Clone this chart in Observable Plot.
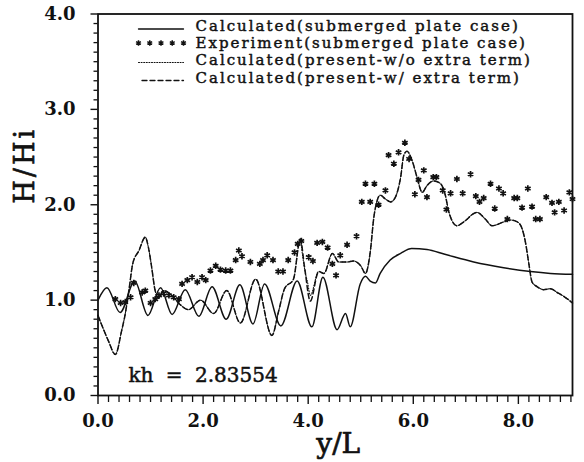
<!DOCTYPE html>
<html><head><meta charset="utf-8">
<script src="https://cdn.jsdelivr.net/npm/d3@7"></script>
<script src="https://cdn.jsdelivr.net/npm/@observablehq/plot@0.6"></script>
<style>
html,body{margin:0;padding:0;background:#fff;}
#chart{width:584px;height:462px;}
</style>
</head><body><div id="chart"></div>
<script>
// ---- Data ----
// Calculated (submerged plate case) — solid line
const solidX = [0.00,0.17,0.42,0.70,0.95,1.19,1.41,1.66,1.92,2.17,2.44,2.70,2.95,3.17,3.48,3.79,4.07,4.28,4.55,4.71,4.80,4.99,5.09,5.18,5.28,5.37,5.56,5.76,5.97,6.26,6.60,7.15,7.72,8.23,8.61,9.03];
const solidY = [1.00,1.13,0.87,1.20,0.84,1.13,0.85,1.11,0.83,1.14,0.80,1.16,0.75,1.17,0.73,1.20,0.72,1.24,0.69,0.86,0.72,1.17,1.25,1.20,1.18,1.28,1.42,1.49,1.54,1.53,1.48,1.40,1.34,1.30,1.28,1.27];

// Calculated (present, w/ extra term) — dashed line
const dashX = [0,0.10,0.20,0.33,0.45,0.52,0.60,0.66,0.78,0.90,0.96,1.02,1.08,1.15,1.25,1.40,1.55,1.72,1.95,2.20,2.45,2.71,3.00,3.31,3.44,3.55,3.72,3.85,3.93,4.04,4.20,4.30,4.46,4.58,4.74,4.86,5.00,5.09,5.18,5.25,5.31,5.37,5.47,5.57,5.66,5.76,5.82,5.88,5.98,6.07,6.17,6.26,6.39,6.52,6.61,6.67,6.74,6.83,6.96,7.21,7.37,7.50,7.72,7.85,7.98,8.07,8.13,8.20,8.26,8.36,8.48,8.61,8.74,8.89,9.03];
const dashY = [0.84,0.70,0.57,0.43,0.68,0.86,1.15,1.38,1.52,1.66,1.55,1.35,1.12,1.02,1.10,1.05,0.96,0.90,1.00,0.86,1.10,0.76,1.22,0.63,0.89,1.12,1.22,1.64,1.35,0.99,1.30,1.28,1.49,1.40,1.40,1.41,1.36,1.28,1.50,1.87,2.04,2.10,2.06,2.03,2.08,2.29,2.52,2.56,2.46,2.29,2.13,2.20,2.25,2.22,2.10,1.94,1.83,1.78,1.82,1.92,1.85,1.78,1.82,1.84,1.82,1.75,1.62,1.38,1.19,1.14,1.11,1.12,1.08,1.03,0.97];

// Calculated (present, w/o extra term) — dotted line
const dotX = [0,0.10,0.20,0.33,0.45,0.52,0.60,0.66,0.78,0.90,0.96,1.02,1.08,1.15,1.25,1.40,1.55,1.72,1.95,2.20,2.45,2.71,3.00,3.31,3.44,3.55,3.72,3.85,3.89,3.94,3.99,4.04,4.20,4.30,4.46,4.58,4.74,4.86,5.00,5.09,5.18,5.25,5.31,5.37,5.47,5.57,5.66,5.76,5.82,5.88,5.98,6.07,6.17,6.26,6.39,6.52,6.61,6.67,6.74,6.83,6.96,7.21,7.37,7.50,7.72,7.85,7.98,8.07,8.13,8.20,8.26,8.36,8.48,8.61,8.74,8.89,9.03];
const dotY = [0.84,0.70,0.57,0.43,0.68,0.86,1.15,1.38,1.52,1.66,1.55,1.35,1.12,1.02,1.10,1.05,0.96,0.90,1.00,0.86,1.10,0.76,1.22,0.63,0.89,1.12,1.22,1.64,1.48,1.30,1.18,1.05,1.30,1.28,1.49,1.40,1.40,1.41,1.36,1.28,1.50,1.87,2.04,2.10,2.06,2.03,2.08,2.29,2.52,2.56,2.46,2.29,2.13,2.20,2.25,2.22,2.10,1.94,1.83,1.78,1.82,1.92,1.85,1.78,1.82,1.84,1.82,1.75,1.62,1.38,1.19,1.14,1.11,1.12,1.08,1.03,0.97];

// Experiment (submerged plate case) — asterisks
const expX = [0.33,0.43,0.52,0.62,0.68,0.84,0.90,1.00,1.09,1.16,1.25,1.35,1.44,1.54,1.60,1.70,1.79,1.89,1.98,2.05,2.14,2.24,2.33,2.43,2.52,2.62,2.68,2.74,2.90,3.08,3.14,3.22,3.33,3.43,3.52,3.62,3.74,3.80,3.87,4.01,4.09,4.17,4.27,4.37,4.46,4.53,4.61,4.74,4.92,5.02,5.09,5.18,5.26,5.34,5.47,5.53,5.63,5.72,5.84,5.92,6.03,6.10,6.20,6.26,6.38,6.44,6.56,6.63,6.71,6.83,6.94,7.09,7.19,7.26,7.34,7.47,7.55,7.63,7.71,7.79,7.92,7.98,8.07,8.18,8.26,8.33,8.41,8.53,8.64,8.69,8.77,8.87,8.97,9.03];
const expY = [1.01,0.97,0.98,1.03,1.18,1.08,1.10,0.97,1.01,1.05,1.07,1.05,1.03,1.01,1.17,1.21,1.24,1.19,1.24,1.21,1.31,1.36,1.32,1.31,1.31,1.42,1.52,1.46,1.40,1.38,1.42,1.47,1.42,1.30,1.30,1.42,1.50,1.59,1.62,1.45,1.41,1.60,1.61,1.55,1.38,1.26,1.47,1.58,1.67,2.03,2.22,2.03,2.22,2.00,2.15,2.52,2.43,2.55,2.65,2.48,2.11,2.26,2.36,2.08,2.29,2.29,2.15,1.95,2.12,2.27,2.12,2.32,2.09,2.03,2.07,2.22,1.96,2.17,2.12,1.85,2.07,2.07,1.97,2.17,1.98,1.85,1.85,2.08,2.02,1.92,2.03,1.94,2.13,2.06];

// Ticks
const xMajor = [0, 2, 4, 6, 8];
const xMinor = d3.range(0, 9.01, 0.2).map(v => +v.toFixed(1)).filter(v => !xMajor.includes(v));
const yMajor = [0, 1, 2, 3, 4];
const yMinor = d3.range(0, 4.001, 0.1).map(v => +v.toFixed(1)).filter(v => !yMajor.includes(v));

// Texts
const legendLabels = [
  "Calculated(submerged plate case)",
  "Experiment(submerged plate case)",
  "Calculated(present-w/o extra term)",
  "Calculated(present-w/ extra term)"
];
const xLabel = "y/L";
const yLabel = "H/Hi";
const note = "kh = 2.83554";

// ---- Build ----
const rows = (xs, ys) => xs.map((x, i) => ({x, y: ys[i]}));
const solid = rows(solidX, solidY);
const dashed = rows(dashX, dashY);
const dotted = rows(dotX, dotY);
const exper = rows(expX, expY);

const W = 584, H = 462;
const mL = 97.5, mR = 12, mT = 13.5, mB = 67;
const xDom = [0, 9.03], yDom = [0, 4];
// helpers to place decorations by pixel position
const px = p => xDom[0] + (p - mL) / (W - mL - mR) * (xDom[1] - xDom[0]);
const py = p => yDom[0] + ((H - mB) - p) / (H - mT - mB) * (yDom[1] - yDom[0]);

const serif = "'DejaVu Serif', 'Liberation Serif', serif";
const ink = "#111";

const legX0 = px(138), legX1 = px(183), legTextX = px(195);
const legBase = [30, 47, 64.5, 82];

const plot = Plot.plot({
  width: W, height: H,
  marginLeft: mL, marginRight: mR, marginTop: mT, marginBottom: mB,
  style: {fontFamily: serif, background: "#fff", color: ink, overflow: "visible"},
  x: {domain: xDom},
  y: {domain: yDom},
  marks: [
    Plot.axisY(yMinor, {tickSize: 4, fill: "none", stroke: ink, strokeWidth: 1.3}),
    Plot.axisY(yMajor, {tickSize: 7, tickPadding: 15.5, stroke: ink, strokeWidth: 1.4, fill: ink,
      tickFormat: d => d.toFixed(1), fontSize: 18, fontWeight: "bold", label: null}),
    Plot.axisX(xMinor, {tickSize: 7, fill: "none", stroke: ink, strokeWidth: 1.3}),
    Plot.axisX(xMajor, {tickSize: 9, tickPadding: 9.5, stroke: ink, strokeWidth: 1.4, fill: ink,
      tickFormat: d => d.toFixed(1), fontSize: 18, fontWeight: "bold", label: null}),
    Plot.frame({stroke: ink, strokeWidth: 1.8}),
    Plot.line(dotted, {x: "x", y: "y", curve: "monotone-x", stroke: ink, strokeWidth: 1.1, strokeDasharray: "1,1.6"}),
    Plot.line(dashed, {x: "x", y: "y", curve: "monotone-x", stroke: ink, strokeWidth: 1.5, strokeDasharray: "5,3"}),
    Plot.line(solid, {x: "x", y: "y", curve: "monotone-x", stroke: ink, strokeWidth: 1.5}),
    Plot.dot(exper, {x: "x", y: "y", symbol: "asterisk", r: 3, stroke: ink, strokeWidth: 1.7}),
    // legend samples
    Plot.line([[legX0, py(28.5)], [legX1, py(28.5)]], {stroke: ink, strokeWidth: 1.3}),
    Plot.dot(d3.range(5).map(i => [legX0 + i * (legX1 - legX0) / 4, py(42.5)]), {symbol: "asterisk", r: 2.6, stroke: ink, strokeWidth: 1.5}),
    Plot.line([[legX0, py(62)], [legX1, py(62)]], {stroke: ink, strokeWidth: 1.1, strokeDasharray: "1,1.6"}),
    Plot.line([[px(141.5), py(80)], [legX1, py(80)]], {stroke: ink, strokeWidth: 1.3, strokeDasharray: "5,3"}),
    Plot.text(legendLabels, {x: legTextX, y: (d, i) => py(legBase[i]), text: d => d, textAnchor: "start", lineAnchor: "bottom",
      fontSize: 15, fill: ink, stroke: ink, strokeWidth: 0.45}),
    // annotation & axis labels
    Plot.text([note], {x: px(128), y: py(381), text: d => d, textAnchor: "start", lineAnchor: "bottom", fontSize: 20, fill: ink, stroke: ink, strokeWidth: 0.5}),
    Plot.text([xLabel], {frameAnchor: "bottom", dx: 3, dy: 57, lineAnchor: "bottom", text: d => d, fontSize: 28, fill: ink, stroke: ink, strokeWidth: 0.7}),
    Plot.text([yLabel], {frameAnchor: "left", dx: -64.5, dy: -1, rotate: -90, lineAnchor: "bottom", text: d => d, fontSize: 27, fill: ink, stroke: ink, strokeWidth: 0.7})
  ]
});

const svg = d3.select(plot);
svg.selectAll("text").each(function() {
  const t = this.textContent;
  if (legendLabels.includes(t)) this.setAttribute("letter-spacing", "2");
  if (t === yLabel) this.setAttribute("letter-spacing", "3");
  if (t === note) this.setAttribute("word-spacing", "6");
});
document.getElementById("chart").appendChild(plot);
</script>
</body></html>
